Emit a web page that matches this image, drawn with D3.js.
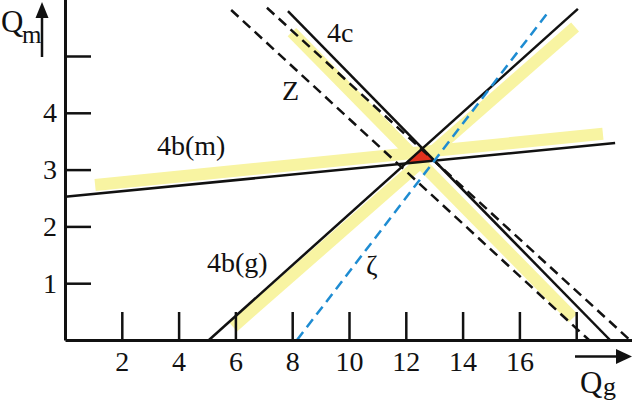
<!DOCTYPE html>
<html>
<head>
<meta charset="utf-8">
<script src="https://cdn.jsdelivr.net/npm/d3@7"></script>
<style>
  body { margin: 0; background: #fff; }
  svg { display: block; }
</style>
</head>
<body>
<svg></svg>
<script>
// axis ticks
var xTicks = [2, 4, 6, 8, 10, 12, 14, 16, 18];
var xTickLabels = ["2", "4", "6", "8", "10", "12", "14", "16", ""];
var yTicks = [1, 2, 3, 4, 5];
var yTickLabels = ["1", "2", "3", "4", ""];

// lines as [Qg, Qm] end points
var line4bg = [[5.07, 0], [18.06, 5.83]];
var band4bg = [[5.92, 0.23], [17.96, 5.51]];
var line4bm = [[0, 2.52], [19.37, 3.47]];
var band4bm = [[1.06, 2.73], [18.94, 3.63]];
var line4c = [[7.85, 5.79], [19.19, 0]];
var band4c = [[7.99, 5.42], [17.89, 0.39]];
var lineZ1 = [[5.85, 5.81], [18.45, 0]];
var lineZ2 = [[7.11, 5.85], [19.89, 0]];
var lineZeta = [[8.17, 0], [17.01, 5.77]];
var triangle = [[11.99, 3.11], [12.58, 3.37], [13.0, 3.16]];

var svgWidth = 632;
var svgHeight = 402;
var font = "'Liberation Serif', 'Times New Roman', serif";

var svg = d3.select("svg")
    .attr("width", svgWidth)
    .attr("height", svgHeight);

var xScale = d3.scaleLinear().domain([0, 20]).range([65, 633]);
var yScale = d3.scaleLinear().domain([0, 6]).range([340, -0.8]);

var line = d3.line()
    .x(function(d) { return xScale(d[0]); })
    .y(function(d) { return yScale(d[1]); });

// yellow bands
[band4bg, band4bm, band4c].forEach(function(b) {
    svg.append("path")
        .attr("d", line(b))
        .attr("fill", "none")
        .attr("stroke", "#f8f4a2")
        .attr("stroke-width", 12);
});

// red triangle
svg.append("path")
    .attr("d", line(triangle) + "Z")
    .attr("fill", "#e0321e");

// solid lines
[line4bg, line4bm, line4c].forEach(function(l) {
    svg.append("path")
        .attr("d", line(l))
        .attr("fill", "none")
        .attr("stroke", "#111")
        .attr("stroke-width", 2.5);
});

// Z dashed
[lineZ1, lineZ2].forEach(function(l) {
    svg.append("path")
        .attr("d", line(l))
        .attr("fill", "none")
        .attr("stroke", "#111")
        .attr("stroke-width", 2.5)
        .attr("stroke-dasharray", "10,6");
});

// zeta dashed blue
svg.append("path")
    .attr("d", line(lineZeta))
    .attr("fill", "none")
    .attr("stroke", "#1e8cd2")
    .attr("stroke-width", 2.5)
    .attr("stroke-dasharray", "10,6");

// axes
var xAxis = svg.append("g")
    .attr("transform", "translate(0,340)")
    .call(d3.axisBottom(xScale)
        .tickValues(xTicks)
        .tickSize(-28)
        .tickSizeOuter(0)
        .tickPadding(11)
        .tickFormat(function(d, i) { return xTickLabels[i]; }));

var yAxis = svg.append("g")
    .attr("transform", "translate(65,0)")
    .call(d3.axisLeft(yScale)
        .tickValues(yTicks)
        .tickSize(-26)
        .tickSizeOuter(0)
        .tickPadding(8)
        .tickFormat(function(d, i) { return yTickLabels[i]; }));

[xAxis, yAxis].forEach(function(a) {
    a.attr("font-family", font).attr("font-size", 28);
    a.select(".domain").attr("stroke", "#111").attr("stroke-width", 3);
    a.selectAll(".tick line").attr("stroke", "#111").attr("stroke-width", 2.5);
    a.selectAll(".tick text").attr("fill", "#111");
});

// axis arrows
svg.append("line")
    .attr("x1", 42).attr("y1", 57).attr("x2", 42).attr("y2", 14)
    .attr("stroke", "#111").attr("stroke-width", 2.5);
svg.append("path")
    .attr("d", "M42,2L35.5,18L48.5,18Z")
    .attr("fill", "#111");

svg.append("line")
    .attr("x1", 575).attr("y1", 356.5).attr("x2", 618).attr("y2", 356.5)
    .attr("stroke", "#111").attr("stroke-width", 2.5);
svg.append("path")
    .attr("d", "M632,356.5L616,349L616,364Z")
    .attr("fill", "#111");

// axis titles
var qm = svg.append("text")
    .attr("x", 1).attr("y", 32)
    .attr("font-family", font).attr("font-size", 31).attr("fill", "#111");
qm.append("tspan").text("Q");
qm.append("tspan").attr("x", 22).attr("y", 43).attr("font-size", 25).text("m");

var qg = svg.append("text")
    .attr("x", 580).attr("y", 393)
    .attr("font-family", font).attr("font-size", 31).attr("fill", "#111");
qg.append("tspan").text("Q");
qg.append("tspan").attr("x", 603).attr("y", 395).attr("font-size", 26).text("g");

// line labels
var labels = [
    {t: "4b(m)", x: 157, y: 155},
    {t: "4b(g)", x: 207, y: 272},
    {t: "4c", x: 327, y: 42},
    {t: "Z", x: 282, y: 100},
    {t: "ζ", x: 366, y: 275}
];
svg.selectAll(".lbl")
    .data(labels)
    .enter()
    .append("text")
    .attr("class", "lbl")
    .attr("x", function(d) { return d.x; })
    .attr("y", function(d) { return d.y; })
    .attr("font-family", font)
    .attr("font-size", 28)
    .attr("fill", "#111")
    .text(function(d) { return d.t; });
</script>
</body>
</html>
